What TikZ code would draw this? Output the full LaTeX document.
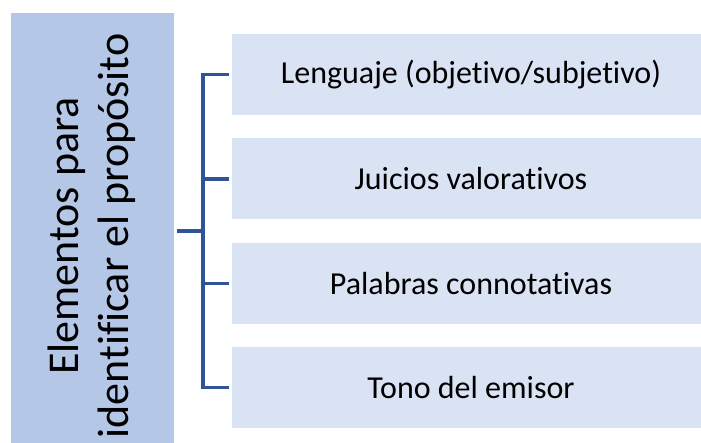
\documentclass[tikz,border=0pt]{standalone}
\usepackage{fontspec}
\setmainfont[RawFeature={-liga}]{Carlito}
\definecolor{mainfill}{HTML}{B4C7E7}
\definecolor{subfill}{HTML}{DAE3F3}
\definecolor{linkblue}{HTML}{2F5597}
\begin{document}
\begin{tikzpicture}[x=1pt,y=-1pt,
  mainbox/.style={fill=mainfill,draw=none,minimum width=163pt,minimum height=436pt,inner sep=0pt},
  subbox/.style={fill=subfill,draw=none,minimum width=478pt,minimum height=81pt,inner sep=0pt,
    font=\fontsize{32}{38}\selectfont},
  conn/.style={draw=linkblue,line width=3.1pt}]
\useasboundingbox (0,0) rectangle (701,443);
\begin{scope}
\clip (0,0) rectangle (701,443);
\node[mainbox] (main) at (92.5,231) {};
\node[rotate=90,align=center,font=\fontsize{44}{50}\selectfont,inner sep=0pt] (maintext) at (92,236)
  {Elementos para\\identificar el propósito};
\node[subbox] (b1) at (471,74.5) {Lenguaje (objetivo/subjetivo)};
\node[subbox] (b2) at (471,179) {Juicios valorativos};
\node[subbox] (b3) at (471,283.5) {Palabras connotativas};
\node[subbox] (b4) at (471,387.5) {Tono del emisor};
\end{scope}
\coordinate (j) at (203,231);
\draw[conn] ([xshift=3pt]main.east) -- (j);
\draw[conn] ([xshift=-3pt]b1.west) -| (j) |- ([xshift=-3pt]b4.west);
\draw[conn] (j |- b2.west) -- ([xshift=-3pt]b2.west);
\draw[conn] (j |- b3.west) -- ([xshift=-3pt]b3.west);
\end{tikzpicture}
\end{document}
